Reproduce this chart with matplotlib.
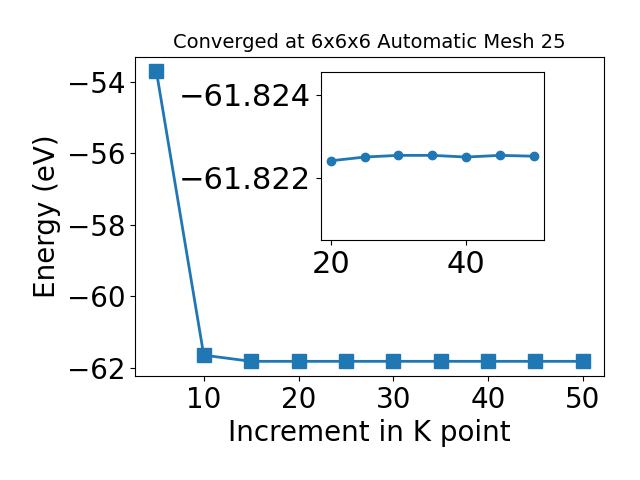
import matplotlib
matplotlib.use("Agg")
import matplotlib.pyplot as plt

# k-point increment vs total energy (eV)
kpoints = [5, 10, 15, 20, 25, 30, 35, 40, 45, 50]
energy = [-53.70, -61.65, -61.8224, -61.8224, -61.8225, -61.82254, -61.82254,
          -61.8225, -61.82254, -61.82252]

# zoomed-in converged region
inset_k = [20, 25, 30, 35, 40, 45, 50]
inset_e = [-61.82241, -61.82250, -61.82254, -61.82254, -61.82250, -61.82254, -61.82252]

fig = plt.figure(figsize=(6.4, 4.8), dpi=100)
ax = fig.add_axes([0.211, 0.217, 0.733, 0.665])
ax.plot(kpoints, energy, "s-", color="#1f77b4", linewidth=2, markersize=10)
ax.set_xlabel("Increment in K point", fontsize=20)
ax.set_ylabel("Energy (eV)", fontsize=20)
ax.set_title("Converged at 6x6x6 Automatic Mesh 25", fontsize=14)
ax.tick_params(labelsize=20)
ax.set_yticks([-62, -60, -58, -56, -54])

ins = fig.add_axes([0.501, 0.5, 0.349, 0.35])
ins.plot(inset_k, inset_e, "o-", color="#1f77b4", linewidth=2, markersize=6)
ins.set_ylim(-61.82051, -61.82454)
ins.set_yticks([-61.824, -61.822])
ins.set_yticklabels(["\u221261.824", "\u221261.822"])
ins.set_xticks([20, 40])
ins.tick_params(labelsize=22)

fig.savefig("out.png", dpi=100)
